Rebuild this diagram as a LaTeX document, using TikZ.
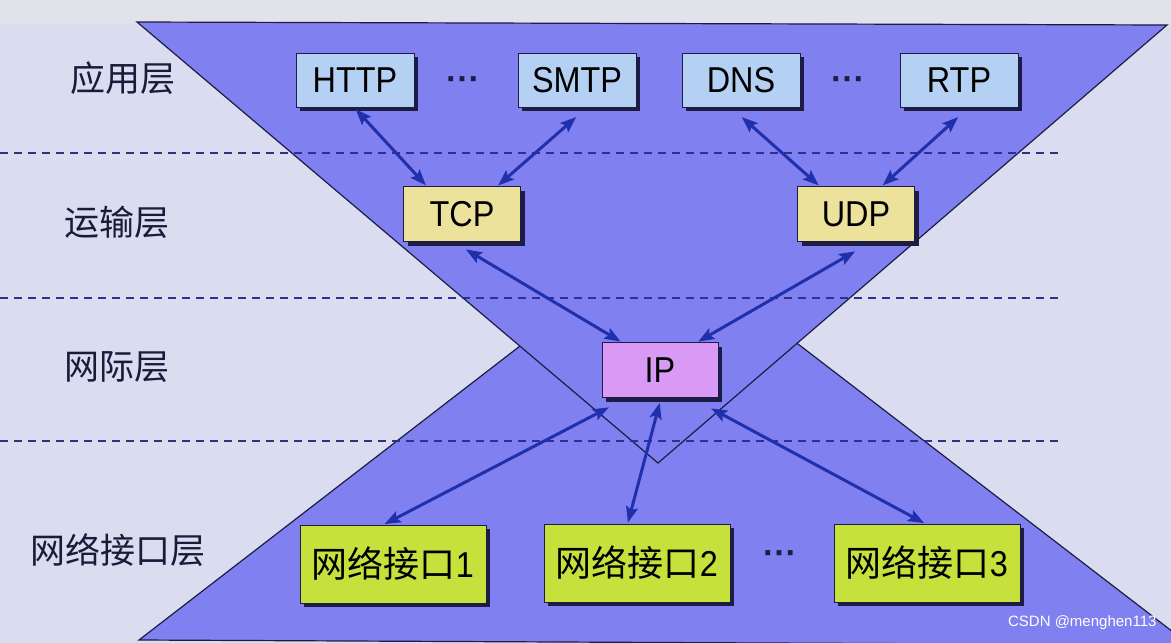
\documentclass[tikz,border=0pt]{standalone}
\usepackage{fontspec}
\setmainfont{Liberation Sans}
\newfontfamily\cjk{Noto Sans CJK SC}
\newfontfamily\boxfont[FakeStretch=0.9]{Liberation Sans}
\usetikzlibrary{shadows,arrows.meta,calc}
\definecolor{bgc}{HTML}{DADDEF}
\definecolor{topc}{HTML}{E2E3EA}
\definecolor{bluef}{HTML}{8080F0}
\definecolor{edgec}{HTML}{1C1C44}
\definecolor{appc}{HTML}{B4D0F2}
\definecolor{trc}{HTML}{ECE29C}
\definecolor{ipc}{HTML}{D89AF4}
\definecolor{nic}{HTML}{C6E03C}
\definecolor{arrc}{HTML}{2030AC}
\definecolor{dashc}{HTML}{30308C}
\definecolor{labc}{HTML}{1A1A3A}
\tikzset{
  pbox/.style={draw=edgec, line width=0.8pt, inner sep=0pt,
    drop shadow={shadow xshift=4pt, shadow yshift=-4pt, fill=edgec, opacity=1},
    font=\boxfont\fontsize{36}{40}\selectfont},
  appbox/.style={pbox, fill=appc, minimum width=118pt, minimum height=54pt},
  trbox/.style={pbox, fill=trc, minimum width=117pt, minimum height=55pt},
  ipbox/.style={pbox, fill=ipc, minimum width=116pt, minimum height=55pt},
  nibox/.style={pbox, fill=nic, minimum width=186pt, minimum height=78pt},
  layerlab/.style={font=\cjk\fontsize{35}{38}\selectfont, text=labc},
  dots/.style={font=\fontsize{34}{36}\selectfont\bfseries, text=edgec, inner sep=0pt},
  conn/.style={draw=arrc, line width=3pt,
    {Stealth[length=16pt,width=12pt,inset=3pt]}-{Stealth[length=16pt,width=12pt,inset=3pt]},
    shorten <=1pt, shorten >=1pt},
  sep/.style={draw=dashc, line width=1.3pt, dash pattern=on 8pt off 6pt}
}
\begin{document}
\begin{tikzpicture}[x=1pt,y=-1pt]
\useasboundingbox (0,0) rectangle (1171,643);
\clip (0,0) rectangle (1171,643);
\fill[bgc] (0,0) rectangle (1171,643);
\fill[topc] (0,0) rectangle (1171,24);
% lower triangle
\filldraw[fill=bluef, draw=edgec, line width=1.2pt] (660,238) -- (1190,645) -- (139,640) -- cycle;
% upper triangle
\filldraw[fill=bluef, draw=edgec, line width=1.2pt] (137,22) -- (1167,25) -- (658,463) -- cycle;
% dashed separators
\coordinate (s1a) at (0,153); \coordinate (s1b) at (1058,153);
\coordinate (s2a) at (0,298); \coordinate (s2b) at (1058,298);
\coordinate (s3a) at (0,441); \coordinate (s3b) at (1058,441);
\draw[sep] (s1a) -- (s1b);
\draw[sep] (s2a) -- (s2b);
\draw[sep] (s3a) -- (s3b);
% layer labels
\node[layerlab] (l1) at (123,78) {应用层};
\node[layerlab] (l2) at (117,222) {运输层};
\node[layerlab] (l3) at (117,367) {网际层};
\node[layerlab] (l4) at (118,550) {网络接口层};
% boxes
\node[appbox] (http) at (355,80) {HTTP};
\node[appbox] (smtp) at (577,80) {SMTP};
\node[appbox] (dns) at (741,80) {DNS};
\node[appbox] (rtp) at (959,80) {RTP};
\node[dots] (d1) at (463,84) {···};
\node[dots] (d2) at (848,84) {···};
\node[trbox] (tcp) at (462,214) {TCP};
\node[trbox] (udp) at (856,214) {UDP};
\node[ipbox] (ip) at (660,370) {IP};
\node[nibox] (n1) at (393,564) {{\cjk 网络接口}1};
\node[nibox] (n2) at (637,563) {{\cjk 网络接口}2};
\node[nibox] (n3) at (927,563) {{\cjk 网络接口}3};
\node[dots] (d3) at (780,558) {···};
% connectors
\draw[conn] ($(http.south)+(0,1)$) -- ($(tcp.north west)!0.2!(tcp.north east)$);
\draw[conn] ($(smtp.south)+(0,9)$) -- ($(tcp.north west)!0.8!(tcp.north east)$);
\draw[conn] ($(dns.south)+(0,9)$) -- ($(udp.north west)!0.19!(udp.north east)$);
\draw[conn] ($(rtp.south)+(0,9)$) -- ($(udp.north west)!0.72!(udp.north east)$);
\draw[conn] ($(tcp.south)+(3,7)$) -- ($(ip.north west)!0.17!(ip.north east)$);
\draw[conn] ($(udp.south)+(0,9)$) -- ($(ip.north west)!0.82!(ip.north east)$);
\draw[conn] ($(ip.south west)!0.07!(ip.south east)+(0,9)$) -- ($(n1.north west)!0.45!(n1.north east)$);
\draw[conn] ($(ip.south)+(0,4)$) -- ($(n2.north west)!0.45!(n2.north east)$);
\draw[conn] ($(ip.south west)!0.93!(ip.south east)+(0,10)$) -- ($(n3.north west)!0.49!(n3.north east)$);
% watermark
\node[font=\fontsize{15}{16}\selectfont, text=white, anchor=east] (wm) at (1160,623) {CSDN @menghen113};
\end{tikzpicture}
\end{document}
